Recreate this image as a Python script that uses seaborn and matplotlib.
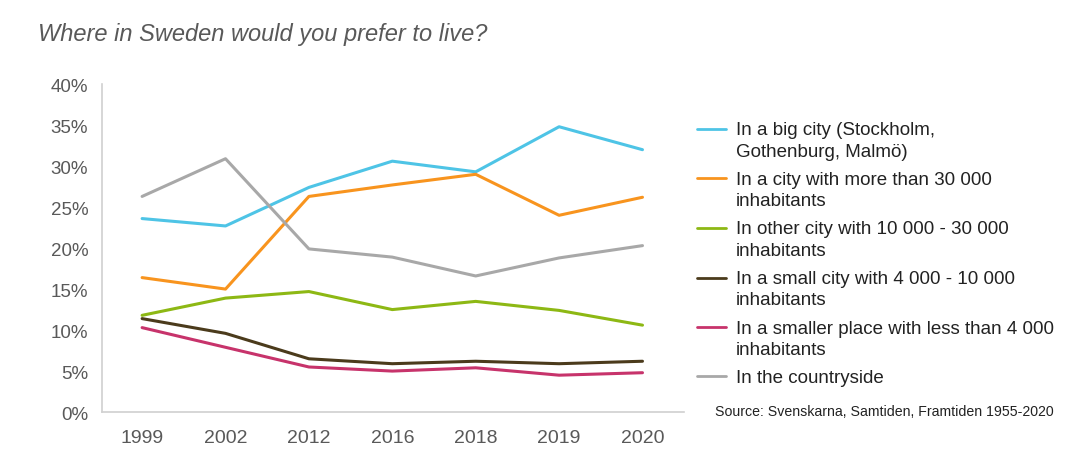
import numpy as np
import pandas as pd
import matplotlib
matplotlib.use("Agg")
import matplotlib.pyplot as plt
import seaborn as sns
from matplotlib.ticker import PercentFormatter
from matplotlib.legend_handler import HandlerLine2D

# data (percent)
years = ["1999", "2002", "2012", "2016", "2018", "2019", "2020"]
big_city = [23.6, 22.7, 27.4, 30.6, 29.3, 34.8, 32.0]
city_30k = [16.4, 15.0, 26.3, 27.7, 29.0, 24.0, 26.2]
city_10k = [11.8, 13.9, 14.7, 12.5, 13.5, 12.4, 10.6]
city_4k = [11.4, 9.6, 6.5, 5.9, 6.2, 5.9, 6.2]
small_place = [10.3, 7.9, 5.5, 5.0, 5.4, 4.5, 4.8]
countryside = [26.3, 30.9, 19.9, 18.9, 16.6, 18.8, 20.3]

labels = [
    "In a big city (Stockholm,\nGothenburg, Malmö)",
    "In a city with more than 30 000\ninhabitants",
    "In other city with 10 000 - 30 000\ninhabitants",
    "In a small city with 4 000 - 10 000\ninhabitants",
    "In a smaller place with less than 4 000\ninhabitants",
    "In the countryside",
]
colors = ["#4EC4E6", "#F8941E", "#8DB814", "#4B3B1C", "#C7336B", "#A8A8A8"]

series = [big_city, city_30k, city_10k, city_4k, small_place, countryside]
df = pd.concat(
    [pd.DataFrame({"year": years, "share": vals, "place": lab})
     for lab, vals in zip(labels, series)],
    ignore_index=True,
)


# legend line next to the first text line instead of the middle of the entry
class FirstLineHandler(HandlerLine2D):
    def __init__(self, shift, **kw):
        super().__init__(**kw)
        self.shift = shift

    def create_artists(self, legend, orig_handle, xdescent, ydescent,
                       width, height, fontsize, trans):
        arts = super().create_artists(legend, orig_handle, xdescent, ydescent,
                                      width, height, fontsize, trans)
        for a in arts:
            a.set_ydata(np.asarray(a.get_ydata()) + self.shift)
        return arts


sns.set_style("white")
plt.rcParams["font.family"] = ["Liberation Sans", "DejaVu Sans"]

fig = plt.figure(figsize=(10.86, 4.6), dpi=100)
ax = fig.add_axes([0.094, 0.102, 0.536, 0.713])

sns.lineplot(data=df, x="year", y="share", hue="place", palette=colors,
             sort=False, linewidth=2.2, ax=ax, legend=True)

ax.set_ylim(0, 40)
ax.set_xlim(-0.48, 6.5)
ax.set_yticks(np.arange(0, 41, 5))
ax.yaxis.set_major_formatter(PercentFormatter(decimals=0))
ax.set_xlabel("")
ax.set_ylabel("")
ax.tick_params(axis="y", labelsize=13.5, labelcolor="#595959", length=0, pad=10)
ax.tick_params(axis="x", labelsize=14, labelcolor="#595959", length=0, pad=12)
for side in ["top", "right"]:
    ax.spines[side].set_visible(False)
for side in ["left", "bottom"]:
    ax.spines[side].set_color("#D0D0D0")
    ax.spines[side].set_linewidth(1.2)

handles, labs = ax.get_legend_handles_labels()
hmap = {}
for h, lab in zip(handles, labs):
    h.set_linewidth(2.0)
    nlines = lab.count("\n") + 1
    hmap[h] = FirstLineHandler(shift=(nlines - 1) * 8.3)
leg = fig.legend(handles, labs, loc="upper left", bbox_to_anchor=(0.642, 0.734),
                 frameon=False, fontsize=13.5, handlelength=1.55,
                 handletextpad=0.5, labelspacing=0.6, borderpad=0,
                 borderaxespad=0, labelcolor="#222222", handler_map=hmap)
for t in leg.get_texts():
    t.set_linespacing(1.33)
ax.get_legend().remove()

fig.text(0.035, 0.925, "Where in Sweden would you prefer to live?", fontsize=17,
         style="italic", color="#595959", va="center")
fig.text(0.658, 0.104, "Source: Svenskarna, Samtiden, Framtiden 1955-2020",
         fontsize=10.2, color="#222222", va="center")

fig.savefig("out.png", dpi=100)
